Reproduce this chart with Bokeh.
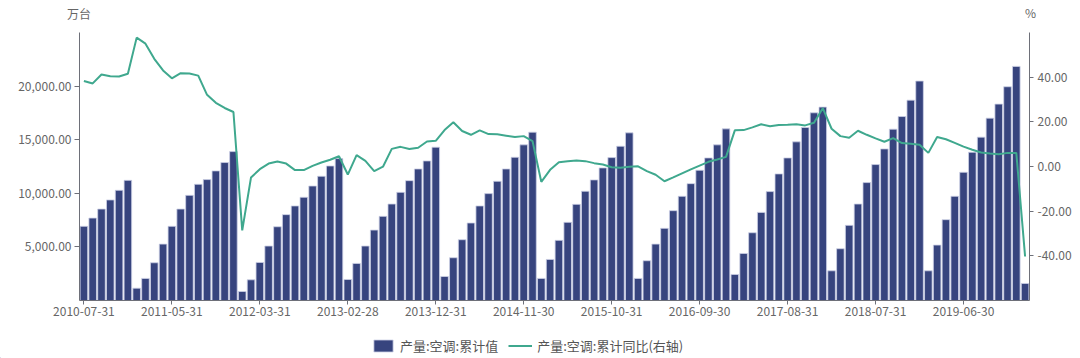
import calendar
from bokeh.plotting import figure
from bokeh.layouts import column
from bokeh.models import (Range1d, LinearAxis, FixedTicker, NumeralTickFormatter,
                          Legend, LegendItem, Label, ColumnDataSource)
from bokeh.embed import file_html
from bokeh.resources import INLINE

# ---- categories: month-end dates (Jan merged into Feb from 2013 on) ----
def month_end(y, m):
    return f"{y}-{m:02d}-{calendar.monthrange(y, m)[1]:02d}"

periods = ([(2010, m) for m in range(7, 13)]
           + [(y, m) for y in (2011, 2012) for m in range(1, 13)]
           + [(y, m) for y in range(2013, 2020) for m in range(2, 13)]
           + [(2020, 2)])
dates = [month_end(y, m) for y, m in periods]

# ---- series (万台 / %) ----
production = [
    6920, 7690, 8530, 9380, 10280, 11210,
    1150, 2060, 3520, 5260, 6920, 8530, 9810, 10840, 11280, 12090, 12870, 13890,
    840, 1930, 3550, 5080, 6880, 8010, 8820, 9630, 10680, 11590, 12550, 13240,
    1960, 3460, 5080, 6570, 7850, 9000, 10090, 11180, 12270, 13020, 14300,
    2240, 3990, 5670, 7230, 8820, 9970, 11120, 12270, 13360, 14520, 15700,
    2060, 3830, 5610, 7290, 8970, 10190, 11250, 12370, 13330, 14390, 15640,
    2060, 3710, 5260, 6730, 8380, 9720, 10900, 12150, 13300, 14520, 16010,
    2430, 4390, 6320, 8220, 10160, 11810, 13300, 14800, 16140, 17510, 18040,
    2770, 4830, 7010, 9000, 11000, 12680, 14140, 15980, 17160, 18690, 20470,
    2770, 5170, 7540, 9720, 11960, 13830, 15240, 17010, 18320, 19940, 21840,
    1590,
]
growth = [
    38.3, 37.2, 41.2, 40.4, 40.3, 41.5,
    57.7, 55.0, 48.2, 43.0, 39.5, 41.8, 41.6, 40.7, 32.1, 28.5, 26.2, 24.4,
    -28.6, -4.9, -1.2, 1.3, 2.2, 1.3, -1.6, -1.6, 0.3, 1.8, 3.0, 4.6,
    -3.6, 5.1, 2.5, -2.1, -0.1, 7.9, 8.8, 7.8, 8.4, 11.2, 11.5,
    16.3, 19.8, 15.9, 14.2, 16.2, 14.5, 14.4, 13.8, 13.2, 13.6, 11.4,
    -6.9, -1.5, 1.9, 2.4, 2.7, 2.4, 1.5, 0.9, -0.3, -0.6, -0.1,
    0.1, -2.1, -3.7, -6.6, -4.9, -3.1, -1.3, 0.4, 2.1, 3.1, 4.3,
    16.2, 16.3, 17.5, 18.9, 18.0, 18.6, 18.7, 18.9, 18.4, 19.6, 26.1,
    16.9, 13.6, 12.9, 16.0, 14.2, 12.6, 11.1, 12.7, 10.5, 10.2, 9.7,
    6.1, 13.2, 12.2, 10.6, 8.9, 7.5, 6.3, 5.8, 5.5, 6.1, 6.1,
    -40.3,
]
left_ticks = [5000, 10000, 15000, 20000]
right_ticks = [-40, -20, 0, 20, 40]
label_every = 10

name_bar = "产量:空调:累计值"
name_line = "产量:空调:累计同比(右轴)"
unit_left = "万台"
unit_right = "%"

FONT = "Noto Sans CJK SC"
TXT = "#666666"
AXC = "#6e7079"
BAR = "#37447e"
BAR_EDGE = "#cdd1e6"
LINE = "#3fa88e"
W = 1080


def bare(h):
    f = figure(width=W, height=h, output_backend="svg", toolbar_location=None,
               x_axis_type=None, y_axis_type=None,
               x_range=Range1d(0, W), y_range=Range1d(0, h),
               min_border=0, frame_align=False)
    f.outline_line_color = None
    f.grid.visible = False
    return f


# ---- top strip: axis names ----
top = bare(32)
for txt, sx, sy in ((unit_left, 78.5, 19), (unit_right, 1030, 20)):
    top.add_layout(Label(x=sx, y=sy, x_units="screen", y_units="screen", text=txt,
                         text_align="center", text_baseline="middle",
                         text_font=FONT, text_font_size="12px", text_color=TXT))

# ---- main chart ----
idx = list(range(len(dates)))
src = ColumnDataSource(dict(x=idx, date=dates, prod=production, yoy=growth))

p = figure(width=W, height=298, output_backend="svg", toolbar_location=None,
           x_range=Range1d(-0.5, len(dates) - 0.5), y_range=Range1d(0, 25000),
           min_border_left=79, min_border_right=51, min_border_top=0, min_border_bottom=30,
           frame_align=False)
p.outline_line_color = None
p.xgrid.visible = False
p.ygrid.visible = False
p.extra_y_ranges = {"pct": Range1d(-60, 60)}

bars = p.vbar(x="x", top="prod", width=0.86, source=src,
              fill_color=BAR, line_color=BAR_EDGE, line_width=0.8)
line = p.line(x="x", y="yoy", source=src, y_range_name="pct",
              line_color=LINE, line_width=2)

xa = p.xaxis[0]
xa.ticker = FixedTicker(ticks=idx[::label_every])
xa.major_label_overrides = {i: dates[i] for i in idx[::label_every]}
xa.major_tick_out = 4
xa.major_label_standoff = 2

ya = p.yaxis[0]
ya.ticker = FixedTicker(ticks=left_ticks)
ya.formatter = NumeralTickFormatter(format="0,0.00")
ya.major_tick_out = 5
ya.major_label_standoff = 3

ra = LinearAxis(y_range_name="pct", ticker=FixedTicker(ticks=right_ticks),
                formatter=NumeralTickFormatter(format="0.00"))
ra.major_tick_out = 4
ra.major_label_standoff = 4
p.add_layout(ra, "right")

for ax in (xa, ya, ra):
    ax.minor_tick_line_color = None
    ax.major_tick_in = 0
    ax.axis_line_color = AXC
    ax.major_tick_line_color = AXC
    ax.major_label_text_font = FONT
    ax.major_label_text_font_size = "12px"
    ax.major_label_text_color = TXT

# ---- bottom strip: legend (proxy glyphs kept outside the visible range) ----
leg = bare(28)
lb = leg.vbar(x=[-500], top=[1], width=1, fill_color=BAR, line_color=BAR_EDGE, line_width=0.8)
ll = leg.line(x=[-600, -500], y=[1, 1], line_color=LINE, line_width=2)
legend = Legend(items=[LegendItem(label=name_bar, renderers=[lb]),
                       LegendItem(label=name_line, renderers=[ll])],
                orientation="horizontal", location=(371, 3),
                padding=0, margin=0, spacing=10, glyph_width=24, glyph_height=15,
                label_standoff=5, label_height=14,
                border_line_alpha=0, background_fill_alpha=0,
                label_text_font=FONT, label_text_font_size="13px",
                label_text_color="#555555")
leg.add_layout(legend)

layout = column(top, p, leg, spacing=0)
open("out.html", "w").write(file_html(layout, INLINE))
